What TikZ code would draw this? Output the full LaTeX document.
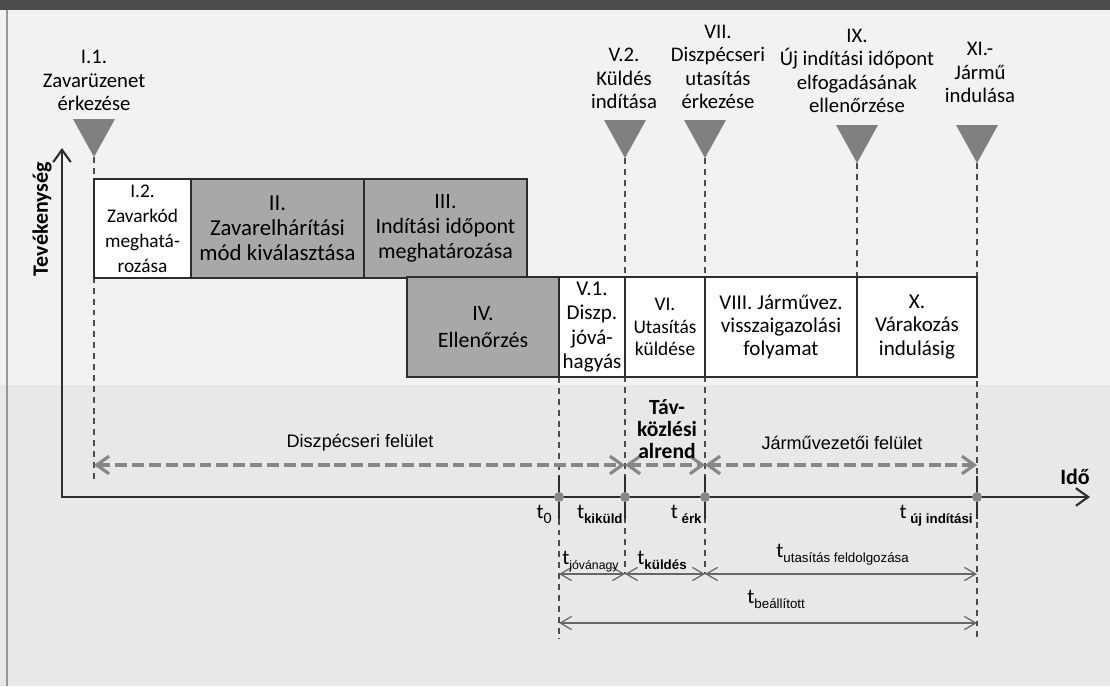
\documentclass[tikz,border=0pt]{standalone}
\usepackage{fontspec}
\setmainfont{Carlito}
\newfontfamily\arialfont{Liberation Sans}
\usetikzlibrary{arrows.meta}
\definecolor{boxgray}{RGB}{168,168,168}
\definecolor{markgray}{RGB}{128,128,128}
\definecolor{flowgray}{RGB}{135,135,135}
\definecolor{inkdark}{RGB}{45,45,45}
\newcommand{\fs}[2]{\fontsize{#1}{#2}\selectfont}
\newcommand{\tsub}[1]{\raisebox{-0.5ex}{\arialfont\fs{7.6}{8}#1}}

\begin{document}
\begin{tikzpicture}[x=0.02cm,y=-0.02cm,
    stage/.style={draw=inkdark,line width=1.1pt,align=center,inner sep=0pt},
    light/.style={stage,fill=white},
    shade/.style={stage,fill=boxgray},
    event/.style={align=center,inner sep=0pt,anchor=south,font=\fs{11.8}{13.3}},
    marker/.style={fill=markgray},
    guide/.style={draw=inkdark!85,line width=0.6pt,dash pattern=on 3.4pt off 2.8pt},
    flow/.style={draw=flowgray,line width=1.8pt,dash pattern=on 6.8pt off 2.8pt,
      >={Straight Barb[length=7pt,width=10pt]},<->},
    axis/.style={draw=inkdark,line width=1.2pt,>={Straight Barb[length=7pt,width=10pt]}},
    span/.style={draw=black!60,line width=0.7pt,>={Straight Barb[length=6.5pt,width=7.5pt]},<->},
    tick/.style={draw=inkdark,line width=1.3pt},
    tlabel/.style={inner sep=0pt,font=\fs{12}{12}}]

  \fill[black!5] (0,0) rectangle (1110,686);
  \fill[black!9] (0,385) rectangle (1110,686);
  \fill[black!70] (0,0) rectangle (1110,10);
  \draw[black!40,line width=0.8pt] (7,10) -- (7,686);
  \useasboundingbox (0,0) rectangle (1110,686);

  \coordinate (m1) at (94,157);
  \coordinate (m2) at (625,158);
  \coordinate (m3) at (705,158);
  \coordinate (m4) at (857,163);
  \coordinate (m5) at (977,163);
  \foreach \m in {m1,m2,m3,m4,m5}
    \fill[marker] (\m) -- ++(-21,-38) -- ++(42,0) -- cycle;

  \node[event] (e1) at (94,111) {I.1.\\Zavarüzenet\\érkezése};
  \node[event] (e2) at (624,109) {V.2.\\Küldés\\indítása};
  \node[event] (e3) at (718,109) {VII.\\Diszpécseri\\utasítás\\érkezése};
  \node[event] (e4) at (857,113) {IX.\\Új indítási időpont\\elfogadásának\\ellenőrzése};
  \node[event] (e5) at (980,103) {XI.-\\Jármű\\indulása};

  \coordinate (g1) at (94,483);
  \coordinate (g2) at (625,574);
  \coordinate (g3) at (705,574);
  \coordinate (g4) at (857,278);
  \coordinate (g5) at (977,639);
  \coordinate (g0a) at (559,377);
  \coordinate (g0b) at (559,639);
  \draw[guide] (m1) -- (g1);
  \draw[guide] (m2) -- (g2);
  \draw[guide] (m3) -- (g3);
  \draw[guide] (m4) -- (g4);
  \draw[guide] (m5) -- (g5);
  \draw[guide] (g0a) -- (g0b);

  \node[light,minimum width=1.94cm,minimum height=1.98cm,font=\fs{11}{14.2}] (s12) at (142.5,228.5) {I.2.\\Zavarkód\\meghatá-\\rozása};
  \node[shade,minimum width=3.46cm,minimum height=1.98cm,font=\fs{13}{14.2}] (s2) at (277.5,228.5) {II.\\Zavarelhárítási\\mód kiválasztása};
  \node[shade,minimum width=3.26cm,minimum height=1.98cm,font=\fs{12.5}{14.2}] (s3) at (445.5,228.5) {III.\\Indítási időpont\\meghatározása};
  \node[shade,minimum width=3.04cm,minimum height=2cm,font=\fs{12.5}{15.3}] (s4) at (483,327) {IV.\\Ellenőrzés};
  \node[light,minimum width=1.32cm,minimum height=2cm,font=\fs{12}{13.9}] (s51) at (592,327) {V.1.\\Diszp.\\jóvá-\\hagyás};
  \node[light,minimum width=1.6cm,minimum height=2cm,font=\fs{11}{13}] (s6) at (665,327) {VI.\\Utasítás\\küldése};
  \node[light,minimum width=3.04cm,minimum height=2cm,font=\fs{12}{13.2}] (s8) at (781,327) {VIII. Járművez.\\visszaigazolási\\folyamat};
  \node[light,minimum width=2.4cm,minimum height=2cm,font=\fs{12}{13.2}] (s10) at (917,327) {X.\\Várakozás\\indulásig};

  \coordinate (o) at (62,497);
  \coordinate (xend) at (1090,497);
  \coordinate (yend) at (62,148);
  \draw[axis,<->] (yend) -- (o) -- (xend);
  \node[rotate=90,font=\bfseries\fs{12.5}{14}] (tev) at (42,219) {Tevékenység};
  \node[font=\bfseries\fs{12.5}{13}] (ido) at (1075,477) {Idő};

  \coordinate (t0) at (559,497);
  \coordinate (tk) at (625,497);
  \coordinate (te) at (705,497);
  \coordinate (tu) at (977,497);
  \foreach \t in {t0,tk,te,tu}{
    \draw[tick] (\t) ++(0,-21) -- ++(0,43);
    \fill[flowgray] (\t) circle[radius=0.1cm];
  }

  \coordinate (f0) at (94,465);
  \coordinate (f1) at (625,465);
  \coordinate (f2) at (705,465);
  \coordinate (f3) at (977,465);
  \draw[flow] (f0) -- (f1);
  \draw[flow] (f1) -- (f2);
  \draw[flow] (f2) -- (f3);
  \node[font=\arialfont\fs{10.3}{12}] (disp) at (360,443) {Diszpécseri felület};
  \node[align=center,font=\bfseries\fs{12.3}{12.5}] (tav) at (667,429) {Táv-\\közlési\\alrend};
  \node[font=\arialfont\fs{10.3}{12}] (jarm) at (842,443) {Járművezetői felület};

  \node[tlabel,anchor=base east] (l0) at (552,518) {t\raisebox{-0.5ex}{\fs{9}{10}0}};
  \node[tlabel,anchor=base east] (lk) at (623,518) {t\tsub{\bfseries kiküld}};
  \node[tlabel,anchor=base east] (le) at (702,518) {t\tsub{\bfseries\ érk}};
  \node[tlabel,anchor=base east] (lu) at (973,518) {t\tsub{\bfseries\ új indítási}};

  \coordinate (a0) at (559,574);
  \coordinate (a1) at (625,574);
  \coordinate (a2) at (705,574);
  \coordinate (a3) at (977,574);
  \coordinate (b0) at (559,623);
  \coordinate (b1) at (977,623);
  \draw[span] (a0) -- (a1);
  \draw[span] (a1) -- (a2);
  \draw[span] (a2) -- (a3);
  \draw[span] (b0) -- (b1);
  \node[tlabel,anchor=base west] (dj) at (562,564) {t\tsub{\fs{7}{8}jóvánagy}};
  \node[tlabel,anchor=base west] (dk) at (637,564) {t\tsub{\bfseries küldés}};
  \node[tlabel,anchor=base west] (du) at (776,557) {t\tsub{utasítás feldolgozása}};
  \node[tlabel,anchor=base west] (db) at (747,603) {t\tsub{beállított}};
\end{tikzpicture}
\end{document}
